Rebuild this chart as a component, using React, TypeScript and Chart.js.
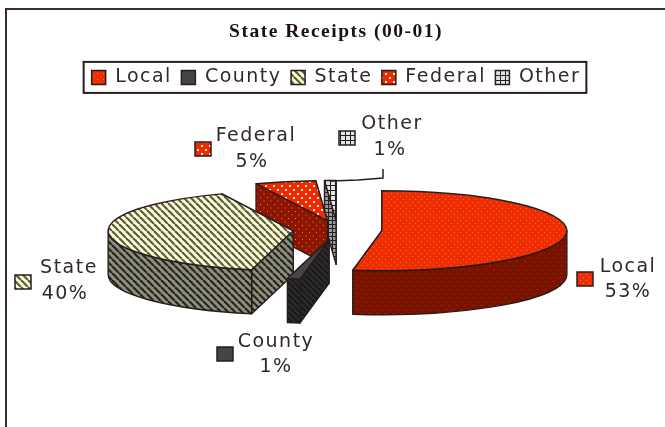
import React, { useEffect, useRef } from "react";
import { Chart, registerables } from "chart.js";

Chart.register(...registerables);

const categories = ["Local", "County", "State", "Federal", "Other"];
const percentValues = [52.5, 1.1, 40.1, 5.3, 1];
const chartTitle = "State Receipts (00-01)";

const INK = "#2b1c1c";
const TEXT = "#332828";
const LETTER = "1.5px";

type Kind = "dots" | "stripes" | "grid" | "plain";

function tile(kind: Kind, bg: string, fg: string, period: number, dot = 1) {
  const c = document.createElement("canvas");
  c.width = period;
  c.height = period;
  const g = c.getContext("2d")!;
  g.fillStyle = bg;
  g.fillRect(0, 0, period, period);
  g.strokeStyle = fg;
  g.fillStyle = fg;
  if (kind === "dots") {
    g.fillRect(1, 1, dot, dot);
    g.fillRect(1 + period / 2, 1 + period / 2, dot, dot);
  } else if (kind === "stripes") {
    g.lineWidth = 2.2;
    for (let o = -period; o <= period; o += period) {
      g.beginPath();
      g.moveTo(o, 0);
      g.lineTo(o + period, period);
      g.stroke();
    }
  } else if (kind === "grid") {
    g.lineWidth = 1;
    g.beginPath();
    g.moveTo(0.5, 0);
    g.lineTo(0.5, period);
    g.moveTo(0, 0.5);
    g.lineTo(period, 0.5);
    g.stroke();
  }
  return g.createPattern(c, "repeat")!;
}

function makePatterns() {
  return {
    top: [
      tile("dots", "#ee2e00", "#ff6a30", 6),
      tile("plain", "#454545", "#454545", 4),
      tile("stripes", "#ffffd2", "#5a5a48", 7),
      tile("dots", "#ee2a00", "#ffe8d8", 8, 2),
      tile("grid", "#e4e4e4", "#202020", 5),
    ],
    side: [
      tile("dots", "#7a1200", "#a04a10", 8),
      tile("stripes", "#2c2c2c", "#1a1a1a", 6),
      tile("stripes", "#8f8f7c", "#25251f", 7),
      tile("dots", "#8e1600", "#d88060", 7),
      tile("grid", "#9a9a9a", "#202020", 4),
    ],
  };
}

const labelPlacement = [
  { sx: 577, sy: 272, tx: 628, ty: 267, vx: 628, vy: 292 },
  { sx: 217, sy: 347, tx: 276, ty: 342, vx: 276, vy: 367 },
  { sx: 15, sy: 275, tx: 69, ty: 268, vx: 65, vy: 294 },
  { sx: 195, sy: 142, tx: 256, ty: 136, vx: 252, vy: 162 },
  { sx: 339, sy: 131, tx: 392, ty: 124, vx: 390, vy: 150 },
];

const PIE = { ox: 337.5, oy: 230, rx: 185, ry: 40, depth: 44, explode: 44.5 };

function makePlugin(patterns: ReturnType<typeof makePatterns>) {
  const setSpacing = (chart: any) => {
    chart.ctx.letterSpacing = LETTER;
  };
  return {
    id: "pie3d",
    beforeLayout: setSpacing,
    beforeDraw(chart: any) {
      setSpacing(chart);
      const ctx = chart.ctx;
      ctx.save();
      ctx.strokeStyle = "#3a2a2a";
      ctx.lineWidth = 2;
      ctx.beginPath();
      ctx.moveTo(6, 427);
      ctx.lineTo(6, 9);
      ctx.lineTo(665, 9);
      ctx.stroke();
      ctx.restore();
    },
    beforeDatasetsDraw(chart: any) {
      const ctx = chart.ctx;
      const arcs = chart.getDatasetMeta(0).data;
      const order = [4, 3, 2, 1, 0];
      const { ox, oy, rx, ry, depth, explode } = PIE;
      ctx.save();
      ctx.lineJoin = "round";
      ctx.strokeStyle = INK;
      ctx.lineWidth = 1.4;
      for (const i of order) {
        const a = arcs[i];
        const s = a.startAngle;
        const e = a.endAngle;
        const mid = (s + e) / 2;
        const cx = ox + explode * Math.cos(mid);
        const cy = oy + (explode * ry * Math.sin(mid)) / rx;
        const px = (t: number) => cx + rx * Math.cos(t);
        const py = (t: number) => cy + ry * Math.sin(t);
        const radial = (t: number) => {
          ctx.beginPath();
          ctx.moveTo(cx, cy);
          ctx.lineTo(px(t), py(t));
          ctx.lineTo(px(t), py(t) + depth);
          ctx.lineTo(cx, cy + depth);
          ctx.closePath();
          ctx.fillStyle = patterns.side[i];
          ctx.fill();
          ctx.stroke();
        };
        radial(e);
        radial(s);
        // front wall: the part of the rim facing the viewer
        for (const shift of [0, 2 * Math.PI, -2 * Math.PI]) {
          const lo = Math.max(s + shift, 0);
          const hi = Math.min(e + shift, Math.PI);
          if (hi <= lo) continue;
          ctx.beginPath();
          ctx.ellipse(cx, cy, rx, ry, 0, lo, hi);
          ctx.ellipse(cx, cy + depth, rx, ry, 0, hi, lo, true);
          ctx.closePath();
          ctx.fillStyle = patterns.side[i];
          ctx.fill();
          ctx.stroke();
        }
        ctx.beginPath();
        ctx.moveTo(cx, cy);
        ctx.ellipse(cx, cy, rx, ry, 0, s, e);
        ctx.closePath();
        ctx.fillStyle = patterns.top[i];
        ctx.fill();
        ctx.stroke();
      }
      ctx.restore();
      return false;
    },
    afterDraw(chart: any) {
      const ctx = chart.ctx;
      ctx.save();
      // legend frame
      const boxes = chart.legend.legendHitBoxes;
      const first = boxes[0];
      const last = boxes[boxes.length - 1];
      ctx.strokeStyle = INK;
      ctx.lineWidth = 2;
      ctx.strokeRect(
        first.left - 8,
        first.top + first.height / 2 - 15.5,
        last.left + last.width - first.left + 14,
        31
      );
      // leader line of the last slice
      ctx.lineWidth = 1.5;
      ctx.beginPath();
      ctx.moveTo(331, 181);
      ctx.lineTo(358, 180);
      ctx.lineTo(383, 178);
      ctx.lineTo(383, 169);
      ctx.stroke();
      // value labels
      ctx.font = "19px 'DejaVu Sans'";
      ctx.textAlign = "center";
      ctx.textBaseline = "middle";
      categories.forEach((name, i) => {
        const p = labelPlacement[i];
        ctx.fillStyle = patterns.top[i];
        ctx.fillRect(p.sx, p.sy, 16, 14);
        ctx.strokeStyle = INK;
        ctx.lineWidth = 1.5;
        ctx.strokeRect(p.sx, p.sy, 16, 14);
        ctx.fillStyle = TEXT;
        ctx.fillText(name, p.tx, p.ty);
        ctx.fillText(`${Math.round(percentValues[i])}%`, p.vx, p.vy);
      });
      ctx.restore();
    },
  };
}

export default function App() {
  const ref = useRef<HTMLCanvasElement>(null);
  useEffect(() => {
    const patterns = makePatterns();
    const chart = new Chart(ref.current!, {
      type: "pie",
      data: {
        labels: categories,
        datasets: [
          {
            data: percentValues,
            backgroundColor: patterns.top,
            borderColor: INK,
            borderWidth: 1.5,
          },
        ],
      },
      options: {
        responsive: false,
        animation: false,
        layout: { padding: { left: 7 } },
        plugins: {
          tooltip: { enabled: false },
          title: {
            display: true,
            text: chartTitle,
            color: "#1c1010",
            font: { family: "'Liberation Serif'", size: 19.5, weight: "bold" },
            padding: { top: 20, bottom: 15 },
          },
          legend: {
            display: true,
            position: "top",
            labels: {
              color: TEXT,
              font: { family: "'DejaVu Sans'", size: 19, weight: "normal" },
              boxWidth: 14,
              boxHeight: 14,
              padding: 9.5,
            },
          },
        },
      },
      plugins: [makePlugin(patterns)],
    });
    return () => chart.destroy();
  }, []);
  return (
    <div style={{ position: "fixed", left: 0, top: 0, width: 665, height: 427, background: "#fff" }}>
      <canvas
        ref={ref}
        width={665}
        height={427}
        style={{ display: "block", width: 665, height: 427, filter: "blur(0.5px)" }}
      />
    </div>
  );
}
